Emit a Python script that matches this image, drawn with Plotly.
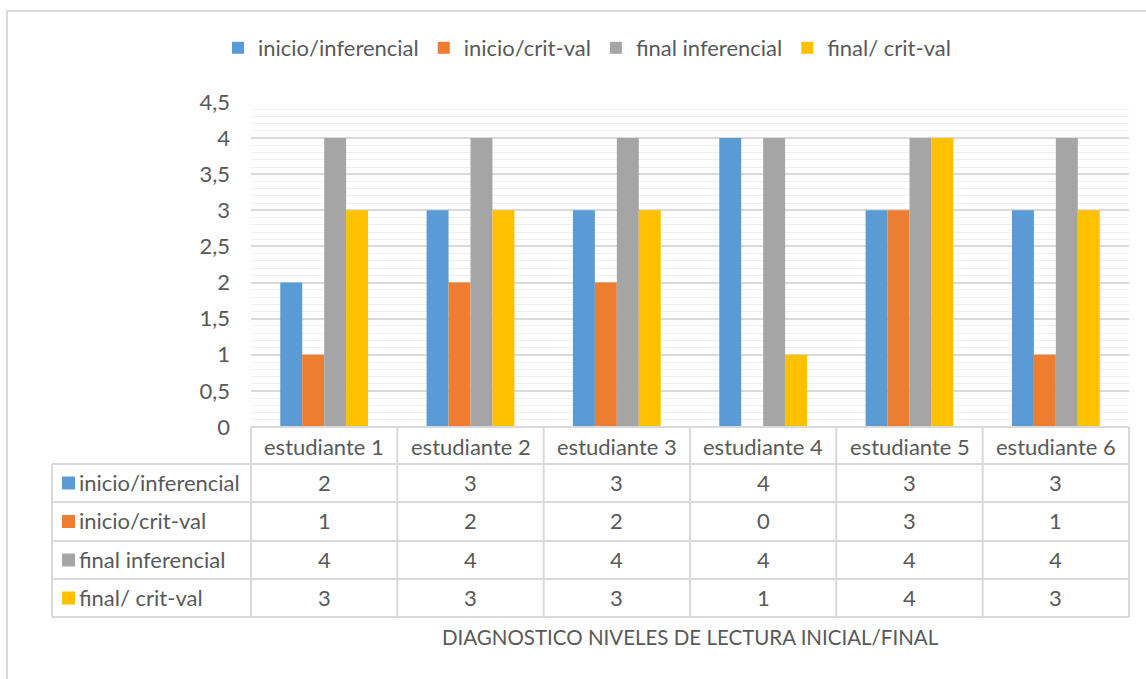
import plotly.graph_objects as go

categories = ["estudiante 1", "estudiante 2", "estudiante 3", "estudiante 4", "estudiante 5", "estudiante 6"]
series_names = ["inicio/inferencial", "inicio/crit-val", "final inferencial", "final/ crit-val"]
inicio_inferencial = [2, 3, 3, 4, 3, 3]
inicio_critval = [1, 2, 2, 0, 3, 1]
final_inferencial = [4, 4, 4, 4, 4, 4]
final_critval = [3, 3, 3, 1, 4, 3]
series_values = [inicio_inferencial, inicio_critval, final_inferencial, final_critval]
colors = ["#5B9BD5", "#ED7D31", "#A5A5A5", "#FFC000"]
chart_title = "DIAGNOSTICO NIVELES DE LECTURA INICIAL/FINAL"

W, H = 1146, 679
FONT = "Lato"
FS = 22
TXT = "#595959"
GRID = "#D9D9D9"

# plot-area pixel frame
PL, PR, PT, PB = 251, 1129, 102, 427
TABLE_LEFT = 52
ROW_EDGES = [427, 464, 502, 541, 579, 617]   # header top, then row separators


def fy(p):
    return 1 - p / H


def fdx(p):  # pixel x -> x-domain fraction
    return (p - PL) / (PR - PL)


fig = go.Figure()
for name, vals, col in zip(series_names, series_values, colors):
    fig.add_trace(go.Bar(x=categories, y=vals, name=name,
                         marker=dict(color=col, line=dict(width=0))))

shapes = []
annotations = []
n = len(categories)
line = dict(color=GRID, width=2)

# table grid
shapes.append(dict(type="line", xref="x domain", yref="paper", x0=0, x1=1,
                   y0=fy(ROW_EDGES[0]), y1=fy(ROW_EDGES[0]), line=line))
for e in ROW_EDGES[1:]:
    shapes.append(dict(type="line", xref="x domain", yref="paper", x0=fdx(TABLE_LEFT), x1=1,
                       y0=fy(e), y1=fy(e), line=line))
for i in range(n + 1):
    shapes.append(dict(type="line", xref="x domain", yref="paper", x0=i / n, x1=i / n,
                       y0=fy(ROW_EDGES[0]), y1=fy(ROW_EDGES[-1]), line=line))
shapes.append(dict(type="line", xref="x domain", yref="paper", x0=fdx(TABLE_LEFT), x1=fdx(TABLE_LEFT),
                   y0=fy(ROW_EDGES[1]), y1=fy(ROW_EDGES[-1]), line=line))

# header texts
hy = (ROW_EDGES[0] + ROW_EDGES[1]) / 2 + 0.5
for c in categories:
    annotations.append(dict(text=c, xref="x", yref="paper", x=c, y=fy(hy), xanchor="center",
                            yanchor="middle", showarrow=False,
                            font=dict(family=FONT, size=FS, color=TXT)))

# rows
for r, (name, vals, col) in enumerate(zip(series_names, series_values, colors)):
    cy = (ROW_EDGES[r + 1] + ROW_EDGES[r + 2]) / 2 - 1
    sq = cy + 1
    shapes.append(dict(type="rect", xref="x domain", yref="paper", x0=fdx(62), x1=fdx(75),
                       y0=fy(sq + 6.5), y1=fy(sq - 6.5), fillcolor=col, line=dict(width=0)))
    annotations.append(dict(text=name, xref="x domain", yref="paper", x=fdx(77), y=fy(cy),
                            xanchor="left", yanchor="middle", showarrow=False,
                            font=dict(family=FONT, size=FS, color=TXT)))
    for c, v in zip(categories, vals):
        annotations.append(dict(text=str(v), xref="x", yref="paper", x=c, y=fy(cy),
                                xanchor="center", yanchor="middle", showarrow=False,
                                font=dict(family=FONT, size=FS, color=TXT)))

# chart title under table
annotations.append(dict(text=chart_title, xref="x domain", yref="paper", x=0.5, y=fy(637),
                        xanchor="center", yanchor="middle", showarrow=False,
                        font=dict(family=FONT, size=20.5, color=TXT)))

# chart-area border
shapes.append(dict(type="rect", xref="paper", yref="paper", x0=7 / W, x1=1.05, y0=-0.05, y1=fy(11),
                   line=dict(color=GRID, width=2), fillcolor="rgba(0,0,0,0)", layer="below"))

fig.update_layout(
    width=W, height=H,
    margin=dict(l=0, r=0, t=0, b=0, autoexpand=False),
    paper_bgcolor="white", plot_bgcolor="white",
    separators=", ",
    barmode="group", bargap=0.4, bargroupgap=0,
    font=dict(family=FONT, size=FS, color=TXT),
    legend=dict(orientation="h", x=587 / W, xanchor="center", y=fy(48), yanchor="middle",
                font=dict(family=FONT, size=FS, color=TXT), bgcolor="rgba(0,0,0,0)",
                itemwidth=30, tracegroupgap=0),
    xaxis=dict(domain=[PL / W, PR / W], showticklabels=False, showgrid=False,
               zeroline=False, showline=False, ticks="", automargin=False),
    yaxis=dict(domain=[fy(PB), fy(PT)], range=[0, 4.5], dtick=0.5, showgrid=True,
               gridcolor=GRID, gridwidth=1.5, zeroline=False, showline=False,
               ticks="", ticklabelstandoff=20, automargin=False,
               tickfont=dict(family=FONT, size=FS, color=TXT),
               minor=dict(dtick=0.1, showgrid=True, gridcolor="#EFEFEF", gridwidth=1)),
    showlegend=True,
    shapes=shapes,
    annotations=annotations,
)

fig.write_html("out.html")
